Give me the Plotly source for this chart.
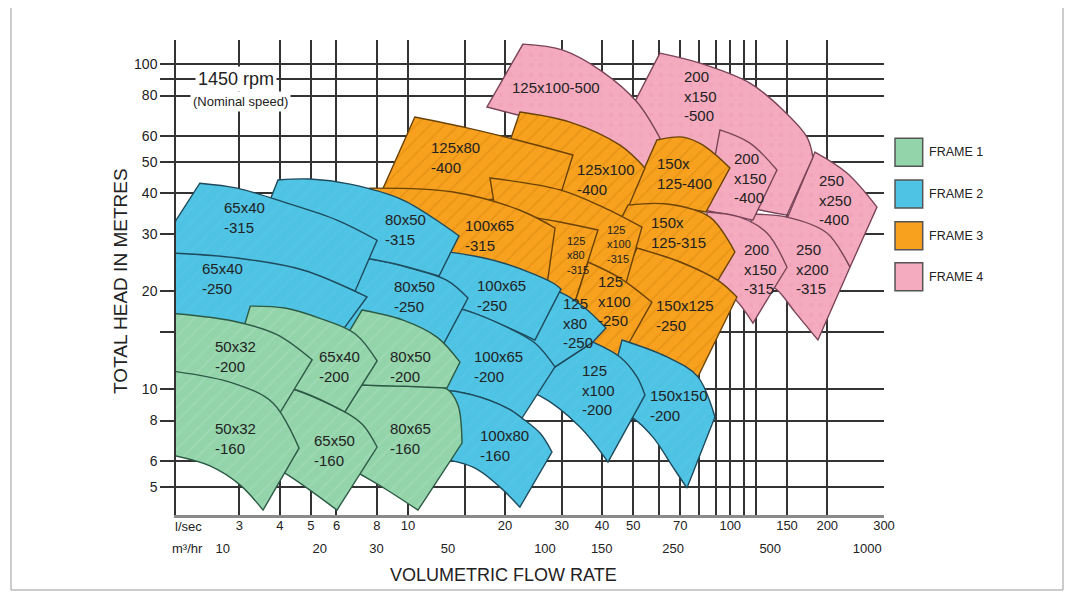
import numpy as np
import plotly.graph_objects as go

# ---------------- axis values ----------------
FLOW_GRID = [3, 4, 5, 6, 8, 10, 15, 20, 30, 40, 50, 60, 70, 80, 90, 100, 110, 120, 150, 200, 300]
FLOW_TEXT = ["3", "4", "5", "6", "8", "10", "", "20", "30", "40", "50", "", "70", "", "", "100", "", "", "150", "200", "300"]
M3H_TICKS = [10, 20, 30, 50, 100, 150, 250, 500, 1000]
HEAD_GRID = [5, 6, 8, 10, 15, 20, 30, 40, 50, 60, 80, 90, 100]
HEAD_TEXT = ["5", "6", "8", "10", "", "20", "30", "40", "50", "60", "80", "", "100"]
FLOW_RANGE = [1.906, 300]      # l/sec
HEAD_RANGE = [4.096, 118.6]    # metres

# ---------------- tiles: (flow l/s, head m) ----------------
# each tile = list of smooth edge paths; corners join the paths with straight edges
# FRAME 4 (pink)
P_250x250_400 = [[(183.2, 53.6), (230.2, 46.2), (285.3, 36.3)],
                 [(235.2, 23.7), (199.5, 29.8), (150.0, 33.4)]]
P_200x150_500 = [[(60.5, 108.1), (80.5, 100.7), (115.1, 87.4), (145.8, 72.2), (173.0, 59.6), (180.6, 51.7)],
                 [(150.0, 34.3), (92.9, 38.15), (56.35, 47.2)],
                 [(43.9, 58.4)]]
P_250x200_315 = [[(115.1, 34.55), (150.0, 33.8), (199.5, 30.2), (235.2, 23.7)],
                 [(187.1, 14.15), (158.8, 17.25), (139.6, 20.2), (123.6, 21.6)]]
P_200x150_400 = [[(92.9, 62.7), (115.1, 57.1), (139.6, 47.2)],
                 [(117.6, 33.1), (103.4, 34.06), (83.5, 35.5)]]
P_200x150_315 = [[(84.7, 35.05), (107.2, 33.8), (130.0, 30.2), (150.0, 23.7)],
                 [(117.6, 15.96), (101.9, 19.2), (83.5, 21.6)]]
P_125x100_500 = [[(22.74, 115.2), (30.26, 110.4), (40.27, 94.5), (51.36, 76.4), (60.51, 59.2)],
                 [(56.35, 45.6), (29.62, 60.5), (22.58, 69.2)],
                 [(17.58, 73.8)]]
# FRAME 3 (orange)
O_150x125_400 = [[(59.23, 58.4), (71.32, 59.6), (82.28, 56.3), (99.79, 47.9)],
                 [(84.06, 35.05), (63.62, 36.3), (47.14, 35.05)]]
O_125x100_400 = [[(22.25, 71.2), (31.82, 66.3), (45.49, 56.3), (54.36, 47.9)],
                 [(46.81, 33.8), (29.62, 38.7), (18.62, 42.4)]]
O_125x80_400 = [[(10.5, 68.7), (15.24, 63.6), (21.78, 58.4), (32.5, 52.5)],
                [(30.05, 41.0), (16.73, 38.15), (8.19, 39.5)]]
O_150x125_315 = [[(48.16, 36.8), (63.62, 37.1), (86.5, 33.8), (103.4, 26.4)],
                 [(91.58, 21.6), (69.81, 24.6), (51.36, 27.15), (42.34, 28.7)]]
O_150x125_250 = [[(51.36, 27.15), (69.81, 24.6), (91.58, 21.6), (104.9, 19.2)],
                 [(79.4, 10.9), (63.62, 12.3), (48.86, 13.85), (39.42, 15.2)]]
O_125x100_315 = [[(17.97, 44.6), (29.62, 41.0), (40.27, 36.3), (53.21, 31.5)],
                 [(47.48, 21.2), (39.42, 22.27), (31.82, 24.1), (19.3, 28.7)]]
O_125x80_315 = [[(22.25, 34.3), (29.62, 32.65), (38.86, 30.85)],
                [(32.97, 18.5), (25.68, 20.2), (22.25, 22.4)]]
O_100x65_315 = [[(7.62, 41.5), (13.8, 40.4), (22.25, 35.5), (28.59, 31.3)],
                [(27.0, 20.9), (16.73, 24.6), (9.45, 28.7)]]
O_125x100_250 = [[(36.18, 24.6), (45.49, 21.95), (57.15, 18.5)],
                 [(45.81, 12.55), (39.42, 13.4), (30.92, 15.2)]]
# FRAME 2 (blue)
B_150x150_200 = [[(46.14, 14.15), (63.62, 12.55), (79.4, 10.9), (89.64, 8.2)],
                 [(73.4, 4.96), (66.4, 5.75), (57.56, 7.11), (49.91, 8.14), (40.85, 8.93)]]
B_125x100_200 = [[(37.5, 13.95), (45.49, 12.55), (51.36, 10.9), (54.36, 9.58)],
                 [(41.74, 5.96), (34.17, 7.64), (25.68, 9.52), (22.25, 9.93)]]
B_125x80_250 = [[(22.25, 21.2), (30.05, 19.74), (35.41, 17.75), (41.14, 15.4)],
                [(37.5, 13.95)], [(28.59, 11.7)], [(22.25, 12.7)]]
B_100x65_250 = [[(10.89, 26.8), (14.19, 26.2), (19.72, 24.43), (28.18, 21.2), (29.84, 20.3)],
                [(24.77, 14.15), (20.29, 15.5), (15.03, 17.5), (12.57, 18.1)]]
B_100x65_200 = [[(12.57, 18.1), (15.03, 17.5), (20.29, 15.5), (24.77, 13.85), (28.59, 11.7)],
                [(22.58, 8.14), (20.29, 8.74), (15.91, 9.58), (11.7, 9.93)]]
B_100x80_160 = [[(9.45, 9.58), (12.57, 9.93), (15.91, 9.58), (20.29, 8.74), (22.58, 8.14), (25.68, 7.32), (27.98, 6.4)],
                [(22.25, 4.33), (19.3, 4.99), (15.91, 5.75), (10.89, 6.26)]]
B_80x50_250 = [[(4.62, 25.85), (7.62, 25.1), (10.14, 23.56), (13.21, 21.6), (15.35, 19.05)],
               [(12.84, 13.66), (9.45, 15.2), (5.73, 14.8)]]
B_80x50_315 = [[(3.95, 44.0), (4.97, 44.3), (6.61, 42.7), (9.65, 38.15), (14.4, 29.6)],
               [(12.48, 22.27), (7.73, 25.1), (3.24, 26.8)]]
B_65x40_315 = [[(2.26, 43.0), (2.95, 41.5), (4.21, 37.35), (6.02, 33.1), (8.02, 28.7)],
               [(6.85, 20.0), (4.72, 22.9), (2.95, 24.9), (1.85, 25.85)],
               [(1.9, 32.9)]]
B_65x40_250 = [[(1.85, 26.2), (2.95, 25.3), (4.72, 23.24), (7.46, 19.2)],
               [(6.37, 15.5), (3.47, 14.15), (1.85, 15.2)]]
# FRAME 1 (green)
G_80x65_160 = [[(5.33, 10.43), (7.25, 10.29), (9.79, 10.2), (13.21, 10.0), (14.29, 8.93), (14.71, 6.82)],
               [(10.74, 4.24), (8.61, 4.89), (6.95, 5.55), (5.73, 6.26)]]
G_80x50_200 = [[(7.2, 17.5), (9.65, 16.3), (12.3, 14.45), (14.5, 12.1)],
               [(13.21, 10.07), (9.79, 10.2), (7.25, 10.29), (5.33, 10.65)]]
G_65x50_160 = [[(3.73, 10.36), (4.4, 10.0), (6.37, 8.5), (7.25, 7.75), (8.02, 6.63)],
               [(6.02, 4.24), (4.15, 5.51), (3.24, 6.26)]]
G_65x40_200 = [[(3.24, 18.0), (4.15, 17.75), (5.33, 16.5), (6.85, 14.8), (8.02, 12.2)],
               [(6.37, 8.5), (4.4, 10.0), (2.76, 10.65)]]
G_50x32_200 = [[(1.85, 17.1), (2.86, 16.2), (3.92, 14.7), (5.04, 12.3)],
               [(3.95, 8.26), (2.86, 10.14), (1.85, 11.05)]]
G_50x32_160 = [[(1.85, 11.36), (2.86, 10.43), (3.81, 9.06), (4.59, 6.58)],
               [(3.55, 4.24), (3.01, 5.07), (2.43, 5.8), (1.85, 6.26)]]

# drawing order (back to front) and frame of each tile
TILE_ORDER = [
    (4, P_250x250_400), (4, P_200x150_500), (4, P_250x200_315), (4, P_200x150_400),
    (4, P_200x150_315), (4, P_125x100_500),
    (3, O_150x125_400), (3, O_125x100_400), (3, O_125x80_400), (3, O_150x125_315),
    (3, O_150x125_250), (3, O_125x100_315), (3, O_125x80_315), (3, O_100x65_315),
    (3, O_125x100_250),
    (2, B_150x150_200), (2, B_125x100_200), (2, B_125x80_250), (2, B_100x65_250),
    (2, B_100x65_200), (2, B_100x80_160), (2, B_80x50_250), (2, B_80x50_315),
    (2, B_65x40_315), (2, B_65x40_250),
    (1, G_80x65_160), (1, G_80x50_200), (1, G_65x50_160), (1, G_65x40_200),
    (1, G_50x32_200), (1, G_50x32_160),
]

# tile labels: text, flow (left edge of text), head (centre), font size
LABEL_TEXT = ["50x32<br>-200", "65x40<br>-200", "80x50<br>-200", "50x32<br>-160", "65x50<br>-160",
              "80x65<br>-160", "65x40<br>-315", "65x40<br>-250", "80x50<br>-315", "80x50<br>-250",
              "100x65<br>-250", "100x65<br>-200", "100x80<br>-160", "125<br>x80<br>-250",
              "125<br>x100<br>-200", "150x150<br>-200", "125x80<br>-400", "125x100<br>-400",
              "150x<br>125-400", "100x65<br>-315", "125<br>x80<br>-315", "125<br>x100<br>-315",
              "125<br>x100<br>-250", "150x<br>125-315", "150x125<br>-250", "125x100-500",
              "200<br>x150<br>-500", "200<br>x150<br>-400", "250<br>x250<br>-400",
              "200<br>x150<br>-315", "250<br>x200<br>-315"]
LABEL_FLOW = [2.48, 5.22, 8.67, 2.48, 5.04, 8.67, 2.65, 2.26, 8.37, 8.92, 16.14, 15.8, 16.49, 29.84,
              34.17, 55.55, 11.62, 32.97, 58.39, 14.81, 30.7, 40.85, 38.31, 55.94, 57.98, 20.73,
              70.81, 101.2, 185.8, 108.7, 157.7]
LABEL_HEAD = [12.6, 11.7, 11.7, 7.02, 6.45, 7.02, 33.6, 21.95, 31.07, 19.2, 19.46, 11.77, 6.68, 15.96,
              9.93, 8.87, 51.7, 44.0, 45.9, 29.6, 25.85, 27.93, 18.66, 30.42, 16.78, 84.98,
              79.7, 44.6, 38.15, 23.4, 23.4]
LABEL_SIZE = [15] * 20 + [11, 11] + [15] * 9

FRAME_NAMES = ["FRAME 1", "FRAME 2", "FRAME 3", "FRAME 4"]
FRAME_FILL = {1: "#93d4ab", 2: "#4ec3e4", 3: "#f7a11f", 4: "#f5abbf"}
FRAME_LINE = {1: "#2c5a44", 2: "#1e4a5c", 3: "#6b4308", 4: "#7a4558"}
FRAME_STRIPE = {1: "#a9ddbc", 2: "#5ac8e7", 3: "#de880f", 4: "#efa0b5"}
FRAME_SHAPE = {1: "/", 2: "/", 3: "/", 4: "."}

FONT = "Liberation Sans, Arial, sans-serif"


def outline(paths):
    xs, ys = [], []
    for p in paths:
        seq = [p[0]] + list(p) + [p[-1]] if len(p) > 1 else [p[0], p[0]]
        for fx, hy in seq:
            xs.append(fx)
            ys.append(hy)
    xs.append(xs[0])
    ys.append(ys[0])
    return xs, ys


fig = go.Figure()
for frame, paths in TILE_ORDER:
    xs, ys = outline(paths)
    fig.add_trace(go.Scatter(
        x=xs, y=ys, mode="lines", fill="toself",
        fillcolor=FRAME_FILL[frame],
        fillpattern=dict(shape=FRAME_SHAPE[frame], bgcolor=FRAME_FILL[frame],
                         fgcolor=FRAME_STRIPE[frame], size=10, solidity=0.18),
        line=dict(color=FRAME_LINE[frame], width=1.4, shape="spline", smoothing=1.0),
        hoverinfo="skip", showlegend=False))

# empty trace that activates the secondary (m³/hr) flow axis
fig.add_trace(go.Scatter(x=[], y=[], xaxis="x2", yaxis="y", mode="markers",
                         hoverinfo="skip", showlegend=False))

annotations = []
for t, fx, hy, s in zip(LABEL_TEXT, LABEL_FLOW, LABEL_HEAD, LABEL_SIZE):
    annotations.append(dict(x=np.log10(fx), y=np.log10(hy), xref="x", yref="y", text=t,
                            showarrow=False, xanchor="left", yanchor="middle", align="left",
                            font=dict(family=FONT, size=s, color="#222")))

# paper positions from screen pixels (plot area: x 176..884, y 40..515)
def px(xp):
    return (xp - 176) / 708.0


def py(yp):
    return (515 - yp) / 475.0


annotations += [
    dict(x=px(195), y=py(79), xref="paper", yref="paper", text="1450 rpm", showarrow=False,
         xanchor="left", yanchor="middle", font=dict(family=FONT, size=18, color="#222"),
         bgcolor="white", borderpad=2),
    dict(x=px(190), y=py(101), xref="paper", yref="paper", text="(Nominal speed)", showarrow=False,
         xanchor="left", yanchor="middle", font=dict(family=FONT, size=13, color="#222"),
         bgcolor="white", borderpad=2),
    dict(x=px(120), y=py(281), xref="paper", yref="paper", text="TOTAL HEAD IN METRES",
         showarrow=False, textangle=-90, xanchor="center", yanchor="middle",
         font=dict(family=FONT, size=19, color="#222")),
    dict(x=px(503), y=py(575), xref="paper", yref="paper", text="VOLUMETRIC FLOW RATE",
         showarrow=False, xanchor="center", yanchor="middle",
         font=dict(family=FONT, size=18, color="#222")),
    dict(x=px(188), y=py(526), xref="paper", yref="paper", text="l/sec", showarrow=False,
         xanchor="center", yanchor="middle", font=dict(family=FONT, size=13, color="#222")),
    dict(x=px(187), y=py(548), xref="paper", yref="paper", text="m³/hr", showarrow=False,
         xanchor="center", yanchor="middle", font=dict(family=FONT, size=13, color="#222")),
]

shapes = [dict(type="rect", xref="paper", yref="paper", x0=px(11), x1=px(1063), y0=py(590), y1=py(-20),
               line=dict(color="#9a9a9a", width=1), fillcolor="rgba(0,0,0,0)", layer="below")]
legend_top = [138.3, 180.0, 221.7, 262.7]
for i, name in enumerate(FRAME_NAMES):
    y0 = legend_top[i]
    shapes.append(dict(type="rect", xref="paper", yref="paper", x0=px(895), x1=px(922.7),
                       y0=py(y0 + 28), y1=py(y0), fillcolor=FRAME_FILL[i + 1],
                       line=dict(color="#555", width=1.5)))
    annotations.append(dict(x=px(927), y=py(y0 + 14), xref="paper", yref="paper", text=name,
                            showarrow=False, xanchor="left", yanchor="middle",
                            font=dict(family=FONT, size=12.5, color="#222")))

fig.update_layout(
    width=1066, height=587, autosize=False,
    margin=dict(l=168, r=190, t=32, b=80),
    paper_bgcolor="white", plot_bgcolor="white",
    showlegend=False,
    xaxis=dict(type="log", range=[np.log10(FLOW_RANGE[0]), np.log10(FLOW_RANGE[1])],
               tickvals=FLOW_GRID, ticktext=FLOW_TEXT, ticks="", ticklabelstandoff=-3,
               showgrid=True, gridcolor="#333", gridwidth=1.5,
               showline=True, linecolor="#8a8a8a", linewidth=2.5,
               zeroline=False, tickfont=dict(family=FONT, size=13, color="#222"),
               fixedrange=True),
    xaxis2=dict(type="log", range=[np.log10(FLOW_RANGE[0]), np.log10(FLOW_RANGE[1])],
                overlaying="x", side="bottom", anchor="y",
                tickvals=[v / 3.6 for v in M3H_TICKS], ticktext=[str(v) for v in M3H_TICKS],
                ticks="", showgrid=False, showline=False, zeroline=False,
                ticklabelstandoff=24, ticklabelshift=-6,
                tickfont=dict(family=FONT, size=13, color="#222"), fixedrange=True),
    yaxis=dict(type="log", range=[np.log10(HEAD_RANGE[0]), np.log10(HEAD_RANGE[1])],
               tickvals=HEAD_GRID, ticktext=HEAD_TEXT, ticks="outside", ticklen=14,
               tickcolor="#333", tickwidth=1.5,
               showgrid=True, gridcolor="#333", gridwidth=1.5,
               showline=True, linecolor="#333", linewidth=1.5,
               zeroline=False, tickfont=dict(family=FONT, size=14, color="#222"),
               fixedrange=True),
    annotations=annotations,
    shapes=shapes,
)

fig.write_html("out.html")
